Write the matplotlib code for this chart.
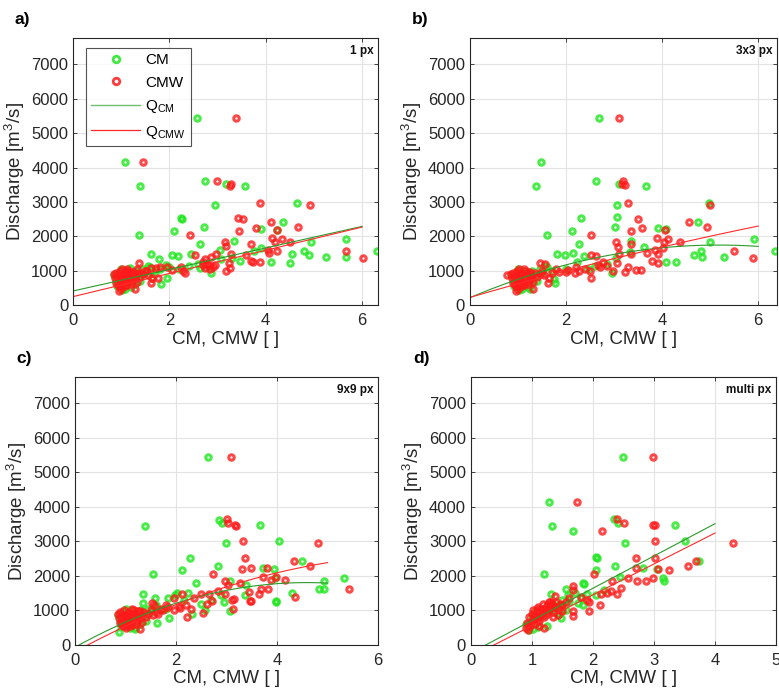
import numpy as np
import matplotlib
matplotlib.use("Agg")
import matplotlib.pyplot as plt
from matplotlib.lines import Line2D

plt.rcParams['font.family'] = ['Liberation Sans', 'DejaVu Sans']
plt.rcParams['mathtext.fontset'] = 'custom'
plt.rcParams['mathtext.rm'] = 'Liberation Sans'
plt.rcParams['mathtext.it'] = 'Liberation Sans:italic'

# ---------------- data (CM / CMW index, discharge m3/s) ----------------
a_cm = [(2.57,5450),(1.08,4150),(1.39,3450),(2.73,3620),(3.17,3520),(3.57,3450),(4.64,2980),(2.95,2920),
        (1.37,2040),(2.25,2520),(2.27,2500),(2.10,2160),(2.72,2270),(2.63,1770),(3.90,2220),(4.35,2420),
        (4.23,2200),(3.34,1860),(5.67,1920),(4.94,1840),(1.62,1480),(1.79,1340),(2.06,1460),(2.17,1440),
        (2.44,1480),(3.06,1600),(3.75,1580),(3.90,1670),(4.55,1500),(4.80,1580),(4.90,1460),(5.26,1400),
        (5.67,1400),(6.30,1580),(4.50,1240),(4.10,1250),(3.46,1280),(2.87,930),(1.95,780),(1.83,630),
        (1.19,1070),(1.55,1150),(1.93,1170),(1.64,800),(2.63,1090),(3.07,1340),(3.30,1360),
        (0.85,880),(0.90,700),(0.95,950),(1.00,600),(1.02,440),(1.05,800),(1.10,1000),(1.12,650),
        (1.15,900),(1.20,520),(1.25,780),(1.30,1000),(1.35,850),(1.40,700),(1.45,1050),(1.50,950),
        (1.60,1100),(1.70,1000),(1.80,1050),(2.00,1100),(2.20,1050),(2.40,1150),(2.60,1200),(2.80,1150),
        (1.00,1050),(0.92,560),(1.08,480),(1.28,620)]
a_cmw = [(3.38,5450),(1.45,4150),(2.99,3620),(3.26,3470),(3.27,3520),(3.89,2980),(4.91,2920),(3.43,2540),
         (3.52,2500),(3.45,2160),(3.80,2230),(4.10,2420),(4.24,2200),(4.66,2280),(2.42,2040),(3.16,1850),
         (3.18,1720),(3.69,1770),(4.13,1940),(4.19,1830),(4.33,1920),(4.51,1850),(4.07,1530),(4.05,1600),
         (4.23,1580),(3.59,1460),(3.27,1480),(2.97,1480),(2.75,1330),(2.87,1410),(2.82,1170),(2.94,1170),
         (2.70,1170),(2.75,1070),(3.23,1220),(3.25,1070),(3.18,1000),(3.70,1290),(3.74,1270),(3.89,1270),
         (5.67,1580),(6.01,1360),(2.54,1460),(2.28,1000),(2.33,930),(2.25,1100),(2.06,1020),(1.95,1110),
         (1.81,1120),(1.73,1070),(1.61,1090),(1.63,800),(1.62,640),(1.76,780),(1.38,1220),(1.51,1000),
         (1.28,460),
         (0.85,900),(0.88,780),(0.90,650),(0.92,850),(0.95,550),(0.97,1000),(0.98,720),(1.00,480),
         (1.00,880),(1.02,620),(1.05,950),(1.05,760),(1.08,560),(1.10,850),(1.10,680),(1.12,1050),
         (1.15,780),(1.18,920),(1.20,620),(1.22,850),(1.25,980),(1.28,760),(1.30,880),(1.32,680),
         (1.35,950),(1.40,820),(1.45,900),(1.50,1000),(1.55,870),(0.95,420),(1.02,1050),(2.70,1250),
         (2.78,1200),(2.85,1050),(2.90,1100),(0.93,600),(0.97,830),(1.03,700),(1.07,900),(1.13,590),
         (1.17,1000),(1.23,700),(1.27,900),(1.33,1050),(1.00,560),(0.90,950),(1.08,1000)]

b_cm = [(2.69,5450),(1.48,4150),(1.38,3450),(2.62,3620),(3.10,3520),(3.66,3450),(4.98,2980),(3.06,2920),
        (3.07,2550),(2.32,2520),(2.13,2160),(3.02,2270),(2.28,1770),(1.60,2040),(3.91,2230),(4.09,2220),
        (4.75,2420),(4.99,1840),(5.91,1920),(6.36,1580),(4.80,1590),(3.35,1860),(3.63,1700),(5.29,1400),
        (4.84,1410),(4.66,1460),(4.28,1260),(4.08,1250),(3.34,1550),(2.95,930),(2.15,1510),(1.81,1480),
        (1.97,1460),(2.37,1440),(2.22,1270),(1.56,1150),(1.24,470),(1.76,640),(1.74,760),(3.05,1380),
        (2.85,1200),(2.60,1130),(2.45,1050),(2.00,1050),
        (0.85,880),(0.90,700),(0.95,950),(1.00,600),(1.02,440),(1.05,800),(1.10,1000),(1.12,650),
        (1.15,900),(1.20,520),(1.25,780),(1.30,1000),(1.35,850),(1.40,700),(1.45,1050),(1.50,950),
        (1.60,1100),(1.70,1000),(1.00,1050),(0.92,560),(1.08,480),(1.28,620)]
b_cmw = [(3.10,5450),(3.19,3610),(3.17,3520),(3.23,3490),(3.30,2980),(5.00,2920),(3.49,2510),(3.58,2230),
         (3.35,2150),(4.06,2180),(4.13,1920),(4.56,2420),(4.93,2270),(2.52,2040),(3.03,1850),(3.08,1690),
         (3.35,1770),(3.89,1940),(4.04,1830),(4.01,1650),(4.38,1850),(3.86,1600),(3.92,1490),(3.78,1290),
         (3.91,1240),(3.68,1510),(3.36,1480),(3.10,1480),(3.06,1220),(2.98,1000),(3.22,980),(3.45,1020),
         (3.56,1010),(3.28,1120),(5.49,1580),(5.90,1360),(2.62,1440),(2.53,1460),(2.77,1270),(2.67,1170),
         (2.50,1000),(2.51,780),(2.27,1000),(2.19,930),(2.04,1020),(1.85,960),(1.64,800),(1.63,640),
         (1.56,1190),(1.32,460),(0.78,880),(1.45,1220),(2.70,1100),(2.85,1150),
         (0.85,900),(0.88,780),(0.90,650),(0.92,850),(0.95,550),(0.97,1000),(0.98,720),(1.00,480),
         (1.00,880),(1.02,620),(1.05,950),(1.05,760),(1.08,560),(1.10,850),(1.10,680),(1.12,1050),
         (1.15,780),(1.18,920),(1.20,620),(1.22,850),(1.25,980),(1.28,760),(1.30,880),(1.32,680),
         (1.35,950),(1.40,820),(1.45,900),(1.50,1000),(1.55,870),(0.95,420),(1.02,1050),(1.70,950),
         (1.80,1050),(2.00,980),(2.20,1100),(2.40,1060),(0.93,600),(0.97,830),(1.03,700),(1.07,900),
         (1.13,590),(1.17,1000),(1.23,700),(1.27,900),(1.00,560),(0.90,950)]

c_cm = [(2.64,5450),(1.38,3450),(2.85,3620),(2.92,3530),(3.67,3470),(2.98,2950),(4.03,3000),(2.28,2530),
        (2.11,2170),(2.84,2290),(2.40,1790),(1.54,2050),(3.73,2230),(3.94,2190),(4.49,2430),(4.92,1860),
        (5.33,1940),(4.83,1610),(4.92,1610),(4.29,1520),(3.98,1270),(3.07,1860),(1.34,1490),(1.35,1220),
        (1.59,1350),(2.90,1460),(2.95,1250),(3.37,1440),(3.39,1740),(3.95,1950),(3.97,1250),(1.97,1460),
        (2.01,1500),(2.23,1520),(1.85,1350),(1.60,1150),(3.06,980),(2.57,1010),(2.31,910),(1.87,790),
        (1.62,650),(1.19,460),(0.87,380),(2.15,1300),(2.50,1200),(2.70,1300),
        (0.85,880),(0.90,700),(0.95,950),(1.00,600),(1.05,800),(1.10,1000),(1.12,650),(1.15,900),
        (1.20,520),(1.25,780),(1.30,1000),(1.35,850),(1.40,700),(1.45,1050),(1.50,950),(1.60,1100),
        (1.70,1000),(1.80,1050),(1.00,1050),(0.92,560),(1.08,480),(1.28,620)]
c_cmw = [(3.09,5450),(3.01,3640),(3.03,3530),(3.17,3470),(3.19,3460),(3.32,3000),(4.81,2950),(3.37,2530),
         (3.31,2190),(3.48,2230),(2.73,2050),(4.34,2430),(4.65,2290),(3.80,2230),(3.73,1960),(3.89,1870),
         (3.97,1960),(4.15,1870),(2.97,1860),(3.02,1740),(3.27,1790),(5.42,1610),(4.36,1380),(3.68,1610),
         (3.83,1610),(3.48,1270),(3.45,1530),(3.12,1030),(3.14,1320),(2.71,1260),(3.64,1490),(3.47,1270),
         (3.10,1300),(2.97,1470),(2.83,1560),(2.66,1490),(2.50,1470),(2.62,1180),(2.53,940),(2.36,1350),
         (2.21,800),(2.11,1470),(1.95,1350),(2.08,1060),(1.80,1150),(1.57,1150),(1.52,1230),(1.29,980),
         (1.29,475),(1.02,860),(2.20,1150),(2.30,1050),(1.70,1050),
         (0.85,900),(0.88,780),(0.90,650),(0.92,850),(0.95,550),(0.97,1000),(0.98,720),(1.00,480),
         (1.00,880),(1.02,620),(1.05,950),(1.05,760),(1.08,560),(1.10,850),(1.10,680),(1.12,1050),
         (1.15,780),(1.18,920),(1.20,620),(1.22,850),(1.25,980),(1.28,760),(1.30,880),(1.32,680),
         (1.35,950),(1.40,820),(1.45,900),(1.50,1000),(1.55,870),(1.60,960),(1.65,900),(1.75,1000),
         (1.85,1100),(1.95,1000),(2.05,1120),(0.93,600),(0.97,830),(1.03,700),(1.07,900),(1.13,590),
         (1.17,1000),(1.23,700),(1.00,560),(0.90,950)]

d_cm = [(2.49,5450),(1.28,4150),(1.33,3450),(1.67,3310),(2.35,3640),(2.41,3530),(3.34,3470),(2.52,2950),
        (3.51,3000),(2.05,2540),(2.07,2520),(2.05,2170),(2.36,2290),(2.45,1980),(2.82,2230),(3.05,2190),
        (3.15,1940),(3.17,1860),(3.74,2430),(1.20,2050),(1.84,1790),(1.85,1760),(1.32,1490),(1.56,1620),
        (2.18,1590),(1.91,1470),(1.80,1370),(1.75,1220),(1.59,1450),(2.05,1450),(1.48,770),(1.38,960),
        (1.31,1150),(1.71,1520),(1.84,1170),(1.02,475),(0.95,430),(1.50,1050),(1.45,900),(1.60,1250),
        (0.90,600),(0.95,480),(1.00,800),(1.05,950),(1.10,700),(1.15,1000),(1.20,850),(1.25,1100),
        (1.30,950),(1.35,1200),(1.40,1050),(1.45,1150),(1.50,1300),(1.55,1000),(1.25,560),(1.10,520)]
d_cmw = [(2.98,5450),(1.74,4150),(2.14,3310),(2.40,3640),(2.51,3530),(2.99,3470),(3.01,3470),(3.02,3000),
         (3.02,2530),(4.29,2950),(2.70,2530),(2.71,2240),(3.06,2200),(3.25,2170),(3.55,2290),(3.69,2430),
         (2.02,2050),(2.58,1950),(2.72,1850),(2.87,1850),(2.99,1950),(2.31,1850),(2.46,1640),(2.40,1470),
         (2.30,1560),(2.23,1520),(2.13,1470),(2.12,1170),(1.94,1250),(1.93,980),(1.68,980),(1.68,830),
         (1.67,1710),(1.68,1590),(1.37,1430),(0.93,430),(1.80,1400),(1.90,1300),(1.55,1250),(1.50,1150),
         (1.60,1350),
         (0.90,500),(0.92,650),(0.95,800),(0.97,550),(1.00,700),(1.00,900),(1.02,1000),(1.05,620),
         (1.05,850),(1.08,750),(1.10,950),(1.10,1100),(1.12,700),(1.15,880),(1.15,1050),(1.18,1200),
         (1.20,800),(1.22,1000),(1.25,1150),(1.25,900),(1.28,1250),(1.30,1050),(1.32,1150),(1.35,950),
         (1.38,1100),(1.40,1250),(1.45,1050),(1.48,1200),(1.50,980),(1.20,480),(1.35,800),(1.42,880),
         (0.97,620),(1.03,780),(1.08,1050),(1.13,820),(1.18,960),(1.23,1080),(1.27,980),(1.33,1200),
         (1.12,560),(1.30,1250)]

# fitted curves: polynomial coefficients (highest power first) and x-range
fit_a_cm, fit_a_cmw = [312.5, 415.0], [336.5, 251.0]
fit_b_cm, fit_b_cmw = [-57.0, 590.0, 222.0], [-10.0, 405.0, 230.0]
fit_c_cm, fit_c_cmw = [-88.7, 815.0, -64.6], [-55.6, 794.0, -195.0]
fit_d_cm, fit_d_cmw = [934.0, -224.0], [894.0, -335.0]
fit_ranges = {'a': (0, 6), 'b': (0, 6), 'c': (0, 5), 'd': (0, 4)}

panel_tags = ['1 px', '3x3 px', '9x9 px', 'multi px']
panel_letters = ['a)', 'b)', 'c)', 'd)']
xlims = [6.33, 6.39, 6.0, 5.0]
xticks = [[0, 2, 4, 6], [0, 2, 4, 6], [0, 2, 4, 6], [0, 1, 2, 3, 4, 5]]
yticks = [0, 1000, 2000, 3000, 4000, 5000, 6000, 7000]

# ---------------- figure ----------------
GREEN = '#1ee61e'
RED = '#ff1a1a'
GREEN_LINE = '#2a9a2a'
RED_LINE = '#ff2a2a'

fig = plt.figure(figsize=(7.79, 6.97), dpi=100)
positions = [(0.0937, 0.562, 0.3915, 0.383),
             (0.6033, 0.562, 0.394, 0.383),
             (0.0963, 0.0746, 0.389, 0.384),
             (0.6046, 0.0746, 0.3915, 0.384)]
letter_pos = [(0.019, 0.972), (0.529, 0.972), (0.021, 0.486), (0.530, 0.486)]

datasets = [(a_cm, a_cmw, fit_a_cm, fit_a_cmw, 'a'),
            (b_cm, b_cmw, fit_b_cm, fit_b_cmw, 'b'),
            (c_cm, c_cmw, fit_c_cm, fit_c_cmw, 'c'),
            (d_cm, d_cmw, fit_d_cm, fit_d_cmw, 'd')]

for i, (cm, cmw, fcm, fcmw, key) in enumerate(datasets):
    ax = fig.add_axes(positions[i])
    cm = np.array(cm); cmw = np.array(cmw)
    mk = dict(marker='o', linestyle='none', markersize=3.9, markeredgewidth=2.2,
              markerfacecolor='none', alpha=0.8)
    ax.plot(cm[:, 0], cm[:, 1], markeredgecolor=GREEN, **mk)
    ax.plot(cmw[:, 0], cmw[:, 1], markeredgecolor=RED, **mk)
    xx = np.linspace(*fit_ranges[key], 200)
    ax.plot(xx, np.polyval(fcm, xx), color=GREEN_LINE, lw=0.8)
    ax.plot(xx, np.polyval(fcmw, xx), color=RED_LINE, lw=0.8)

    ax.set_xlim(0, xlims[i])
    ax.set_ylim(0, 7750)
    ax.set_xticks(xticks[i])
    ax.set_yticks(yticks)
    ax.grid(True, color='#e3e3e3', lw=0.8)
    ax.set_axisbelow(True)
    for s in ax.spines.values():
        s.set_color('#262626'); s.set_linewidth(0.8)
    ax.tick_params(direction='in', length=3, width=0.6, top=True, right=True,
                   labelsize=12, colors='#262626')
    ax.tick_params(axis='x', pad=5.5)
    ax.tick_params(axis='y', pad=3.5)
    ax.set_xlabel('CM, CMW [ ]', fontsize=13.5, color='#262626', labelpad=2)
    ax.set_ylabel('Discharge [m$^3$/s]', fontsize=13.5, color='#262626', labelpad=3)
    ax.text(0.985, 0.975, panel_tags[i], transform=ax.transAxes, ha='right', va='top',
            fontsize=8.5, fontweight='bold', color='#111111')
    fig.text(letter_pos[i][0], letter_pos[i][1], panel_letters[i], fontsize=12.5,
             fontweight='bold', ha='left', va='center')

    if i == 0:
        handles = [Line2D([], [], marker='o', ls='none', mec=GREEN, mfc='none', ms=4.7, mew=2.0, alpha=0.85),
                   Line2D([], [], marker='o', ls='none', mec=RED, mfc='none', ms=4.7, mew=2.0, alpha=0.85),
                   Line2D([], [], color='#6fbf6f', lw=1.0),
                   Line2D([], [], color=RED_LINE, lw=0.9)]
        labels = ['CM', 'CMW', r'Q$_{\mathrm{CM}}$', r'Q$_{\mathrm{CMW}}$']
        leg = ax.legend(handles, labels, loc='upper left', bbox_to_anchor=(0.043, 0.964),
                        borderaxespad=0, fontsize=11, frameon=True, fancybox=False,
                        edgecolor='#262626', handlelength=3.2, handletextpad=0.3,
                        labelspacing=0.55, borderpad=0.35)
        leg.get_frame().set_linewidth(0.8)

fig.savefig('out.png', dpi=100)
